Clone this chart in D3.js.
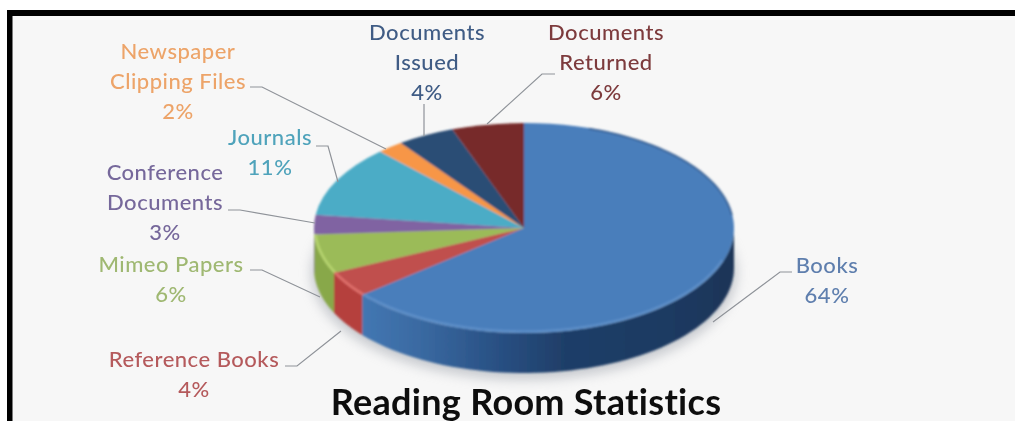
<!DOCTYPE html>
<html><head><meta charset="utf-8">
<script src="https://cdn.jsdelivr.net/npm/d3@7/dist/d3.min.js"></script>
<style>
html,body{margin:0;padding:0;background:#fff;overflow:hidden}
svg{display:block}
text{font-family:Lato,"Open Sans",sans-serif}
</style></head><body>
<svg id="c" width="1015" height="423"></svg>
<script>
// ---- data ----
const categories = ["Books","Reference Books","Mimeo Papers","Conference Documents","Journals","Newspaper Clipping Files","Documents Issued","Documents Returned"];
const values = [64,4,6,3,11,2,4.45,5.55];
const percentLabels = ["64%","4%","6%","3%","11%","2%","4%","6%"];
const chartTitle = "Reading Room Statistics";

// ---- styling and layout ----
const topColors  = ["#4a7ebb","#c0504d","#9bbb59","#8064a2","#4bacc6","#f79646","#2c4d75","#772c2a"];
const wallColors = ["#2c4d75","#b5403d","#88a848","#6b5188","#3a8da5","#d67a2c","#1f3a5c","#5c1f1e"];
const textColors = ["#5f7fae","#b55a5c","#9fb872","#76689b","#4fa3bb","#eda469","#3f5c85","#7d3a3c"];
const labelLines = [["Books"],["Reference Books"],["Mimeo Papers"],["Conference","Documents"],["Journals"],["Newspaper","Clipping Files"],["Documents","Issued"],["Documents","Returned"]];
const labelPos = [[827,273],[194,367],[171,272],[165,180],[270,145],[178,59],[427,40],[606,40]];
const leaders = [
 [[792,272],[780,272],[713,322]],
 [[285,366],[297,366],[341,331]],
 [[250,270],[262,270],[320,297]],
 [[228,210],[240,210],[315,223]],
 [[316,146],[328,146],[338,182]],
 [[250,87],[262,87],[386,149]],
 [[424,104],[424,136]],
 [[555,74],[542,74],[487,124]]
];
const cx=524, cy=228, rx=210, ry=105, depth=40;
const svg=d3.select("#c");
const defs=svg.append("defs");

const wallGrad=defs.append("linearGradient").attr("id","wallBlue").attr("gradientUnits","userSpaceOnUse")
  .attr("x1",cx-rx).attr("x2",cx+rx).attr("y1",0).attr("y2",0);
[[0.1,"#4478b4"],[0.25,"#3a6aa2"],[0.42,"#2a5286"],[0.6,"#1f3e68"],[0.85,"#1e3a62"],[1,"#1d3557"]]
  .forEach(s=>wallGrad.append("stop").attr("offset",s[0]).attr("stop-color",s[1]));
defs.append("filter").attr("id","shadow").attr("x","-20%").attr("y","-20%").attr("width","140%").attr("height","140%")
  .append("feGaussianBlur").attr("stdDeviation",6);
defs.append("filter").attr("id","soft").attr("filterUnits","userSpaceOnUse").attr("x",0).attr("y",0).attr("width",1015).attr("height",423)
  .append("feGaussianBlur").attr("stdDeviation",0.55);
defs.append("filter").attr("id","softer").attr("filterUnits","userSpaceOnUse").attr("x",0).attr("y",0).attr("width",1015).attr("height",423)
  .append("feGaussianBlur").attr("stdDeviation",0.9);

// frame
svg.append("rect").attr("x",7).attr("y",10).attr("width",1008).attr("height",411).attr("fill","#f7f7f7");
svg.append("rect").attr("x",7).attr("y",10).attr("width",1008).attr("height",6).attr("fill","#000");
svg.append("rect").attr("x",7).attr("y",10).attr("width",5.5).attr("height",411).attr("fill","#000");

const pie=d3.pie().sort(null).value(d=>d).startAngle(0).endAngle(2*Math.PI);
const arcs=pie(values);
const k=ry/rx;
const px=a=>cx+rx*Math.sin(a), py=(a,o)=>cy+o-ry*Math.cos(a);

// soft shadow below pie
svg.append("ellipse").attr("cx",cx).attr("cy",cy+depth+5).attr("rx",rx+3).attr("ry",ry+2)
  .attr("fill","#9a9fa8").attr("opacity",.5).attr("filter","url(#shadow)");

const pieG=svg.append("g").attr("filter","url(#softer)");

// side wall
function wallPath(a0,a1){
  const A=Math.max(a0,Math.PI/2), B=Math.min(a1,3*Math.PI/2);
  if(B<=A) return null;
  const p=d3.path(), n=60;
  for(let i=0;i<=n;i++){const a=A+(B-A)*i/n; i?p.lineTo(px(a),py(a,0)):p.moveTo(px(a),py(a,0));}
  for(let i=n;i>=0;i--){const a=A+(B-A)*i/n; p.lineTo(px(a),py(a,depth));}
  p.closePath(); return p.toString();
}
pieG.selectAll("path.wall").data(arcs).join("path").attr("class","wall")
  .attr("d",d=>wallPath(d.startAngle,d.endAngle))
  .attr("fill",(d,i)=>i===0?"url(#wallBlue)":wallColors[i]);

// top face, squashed circle
const arc=d3.arc().innerRadius(0).outerRadius(rx);
const faceG=pieG.append("g").attr("transform",`translate(${cx},${cy}) scale(1,${k})`);
faceG.selectAll("path").data(arcs).join("path").attr("d",arc).attr("fill",(d,i)=>topColors[i]);

// rim highlights on the front edge, dark bevel at the back right
function rim(a0,a1,o){
  const p=d3.path(), n=60;
  for(let i=0;i<=n;i++){const a=a0+(a1-a0)*i/n; const x=cx+(rx-o)*Math.sin(a), y=cy-(ry-o)*Math.cos(a); i?p.lineTo(x,y):p.moveTo(x,y);}
  return p.toString();
}
const toA=v=>v/100*2*Math.PI;
pieG.append("path").attr("d",rim(toA(30),toA(64),1.5)).attr("fill","none").attr("stroke","#6b9ad4").attr("stroke-width",2.5).attr("opacity",.55);
pieG.append("path").attr("d",rim(toA(68),toA(74),1)).attr("fill","none").attr("stroke","#b7d56f").attr("stroke-width",2.5);
pieG.append("path").attr("d",rim(toA(64),toA(68),1)).attr("fill","none").attr("stroke","#e0706c").attr("stroke-width",2.5);
pieG.append("path").attr("d",rim(toA(5),toA(23),0.5)).attr("fill","none").attr("stroke","#2f5688").attr("stroke-width",2).attr("opacity",.7);

// leader lines
const line=d3.line();
svg.append("g").attr("filter","url(#soft)").selectAll("path").data(leaders).join("path")
  .attr("d",line).attr("fill","none").attr("stroke","#8f9399").attr("stroke-width",1.2);

// labels
const lh=30;
const lab=svg.append("g").attr("filter","url(#soft)").selectAll("text").data(categories).join("text")
  .attr("text-anchor","middle").attr("font-size",22).attr("font-weight",500).attr("letter-spacing",0.5)
  .attr("fill",(d,i)=>textColors[i]);
lab.each(function(d,i){
  const t=d3.select(this), lines=labelLines[i].concat(percentLabels[i]);
  t.selectAll("tspan").data(lines).join("tspan")
   .attr("x",labelPos[i][0]).attr("y",(l,j)=>labelPos[i][1]+j*lh).text(l=>l);
});

// title
svg.append("text").attr("x",526).attr("y",415).attr("text-anchor","middle").attr("filter","url(#soft)")
  .attr("font-size",36).attr("font-weight",700).attr("letter-spacing",0.3).attr("fill","#111").text(chartTitle);
</script></body></html>
